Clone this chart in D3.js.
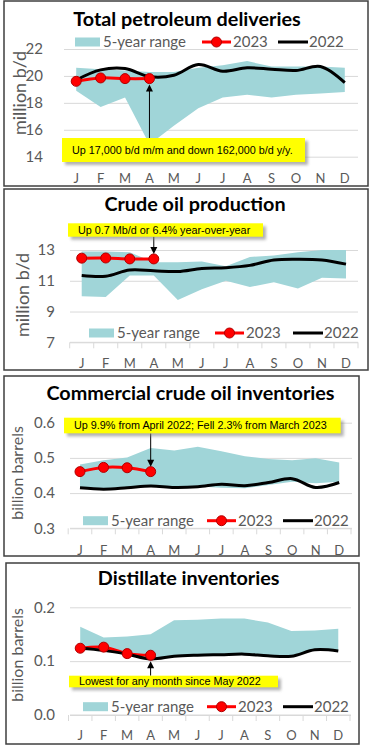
<!DOCTYPE html>
<html>
<head>
<meta charset="utf-8">
<script src="https://cdn.jsdelivr.net/npm/d3@7"></script>
<style>
  body { margin: 0; background: #fff; }
  svg { display: block; }
  text { font-family: Lato, "Open Sans", sans-serif; }
</style>
</head>
<body>
<svg id="chart" width="373" height="751"></svg>
<script>
// month labels (index used as x key since letters repeat)
const months = ["J", "F", "M", "A", "M", "J", "J", "A", "S", "O", "N", "D"];

// Total petroleum deliveries, million b/d
const deliveriesHigh = [20.6, 20.5, 20.4, 20.3, 20.3, 20.6, 20.8, 21.1, 20.7, 20.7, 20.7, 20.6];
const deliveriesLow  = [18.9, 17.7, 18.4, 14.9, 16.3, 17.6, 18.4, 18.6, 18.4, 18.6, 18.7, 18.8];
const deliveries2022 = [19.7, 20.45, 20.55, 19.95, 20.05, 20.85, 20.35, 20.6, 20.5, 20.4, 20.7, 19.5];
const deliveries2023 = [19.6, 19.85, 19.8, 19.8];
const deliveriesTicks = [14, 16, 18, 20, 22];

// Crude oil production, million b/d
const productionHigh = [12.9, 12.9, 12.85, 12.2, 12.2, 12.25, 11.95, 12.55, 12.65, 12.85, 13.0, 13.0];
const productionLow  = [10.0, 9.95, 11.35, 11.35, 9.75, 10.45, 11.0, 10.6, 10.9, 10.5, 11.2, 11.15];
const production2022 = [11.35, 11.3, 11.7, 11.65, 11.6, 11.8, 11.85, 12.0, 12.35, 12.4, 12.35, 12.08];
const production2023 = [12.47, 12.48, 12.42, 12.42];
const productionTicks = [7, 9, 11, 13];

// Commercial crude oil inventories, billion barrels
const crudeInvHigh = [0.481, 0.493, 0.501, 0.528, 0.521, 0.532, 0.519, 0.505, 0.497, 0.493, 0.499, 0.487];
const crudeInvLow  = [0.416, 0.412, 0.416, 0.421, 0.417, 0.419, 0.415, 0.414, 0.423, 0.432, 0.428, 0.432];
const crudeInv2022 = [0.415, 0.411, 0.415, 0.42, 0.416, 0.418, 0.425, 0.421, 0.43, 0.441, 0.416, 0.43];
const crudeInv2023 = [0.461, 0.473, 0.472, 0.461];
const crudeInvTicks = [0.3, 0.4, 0.5, 0.6];

// Distillate inventories, billion barrels
const distInvHigh = [0.164, 0.144, 0.146, 0.150, 0.176, 0.177, 0.179, 0.179, 0.172, 0.156, 0.157, 0.160];
const distInvLow  = [0.123, 0.120, 0.113, 0.104, 0.109, 0.111, 0.112, 0.113, 0.110, 0.109, 0.121, 0.119];
const distInv2022 = [0.124, 0.120, 0.113, 0.104, 0.109, 0.111, 0.112, 0.113, 0.110, 0.109, 0.121, 0.119];
const distInv2023 = [0.124, 0.126, 0.114, 0.111];
const distInvTicks = [0.0, 0.1, 0.2];

const titles = ["Total petroleum deliveries", "Crude oil production",
                "Commercial crude oil inventories", "Distillate inventories"];
const yTitles = ["million b/d", "million b/d", "billion barrels", "billion barrels"];
const notes = ["Up 17,000 b/d m/m and down 162,000 b/d y/y.",
               "Up 0.7 Mb/d or 6.4% year-over-year",
               "Up 9.9% from April 2022; Fell 2.3% from March 2023",
               "Lowest for any month since May 2022"];
const legendLabels = ["5-year range", "2023", "2022"];

const panels = [
  { high: deliveriesHigh, low: deliveriesLow, y22: deliveries2022, y23: deliveries2023,
    ticks: deliveriesTicks, fmt: d3.format("d"),
    box: [4, 1, 364, 185], xRange: [64, 357], yRange: [156.7, 49], gridX: [64, 358],
    tickRight: 43, monthY: 183, titleX: 187, titleY: 26, legendY: 42, legendX: [75, 202, 278],
    yTitleX: 20, yTitleY: 93, yTitleSize: 18, axisLine: false,
    noteBox: [62, 138, 243, 24] },
  { high: productionHigh, low: productionLow, y22: production2022, y23: production2023,
    ticks: productionTicks, fmt: d3.format("d"),
    box: [4, 189, 364, 181], xRange: [69.7, 358], yRange: [342.3, 250], gridX: [70, 358],
    tickRight: 55, monthY: 368, titleX: 195, titleY: 211, legendY: 333, legendX: [89, 215, 293],
    yTitleX: 23, yTitleY: 295, yTitleSize: 18, axisLine: true,
    noteBox: [68, 223.3, 195, 13.4] },
  { high: crudeInvHigh, low: crudeInvLow, y22: crudeInv2022, y23: crudeInv2023,
    ticks: crudeInvTicks, fmt: d3.format(".1f"),
    box: [4, 376, 355, 180], xRange: [68.2, 351], yRange: [528.3, 422.7], gridX: [70, 352],
    tickRight: 55, monthY: 555, titleX: 190.5, titleY: 400, legendY: 520.7, legendX: [83, 207, 283],
    yTitleX: 17, yTitleY: 473, yTitleSize: 16, axisLine: true,
    noteBox: [64, 417.7, 276.7, 15.6] },
  { high: distInvHigh, low: distInvLow, y22: distInv2022, y23: distInv2023,
    ticks: distInvTicks, fmt: d3.format(".1f"),
    box: [6, 563, 353, 181], xRange: [68.5, 350], yRange: [715, 607.3], gridX: [70, 351],
    tickRight: 55, monthY: 740, titleX: 188.7, titleY: 585, legendY: 706.7, legendX: [83, 207, 283],
    yTitleX: 17, yTitleY: 655, yTitleSize: 16, axisLine: true,
    noteBox: [69, 675.7, 209, 11.6] }
];

const bandColor = "#a0d5d8";
const gridColor = "#d9d9d9";
const labelColor = "#595959";
const red = "#ff0000";

const svg = d3.select("#chart");

const defs = svg.append("defs");
defs.append("filter")
    .attr("id", "shadow")
    .attr("x", "-10%").attr("y", "-50%").attr("width", "130%").attr("height", "250%")
    .append("feGaussianBlur")
    .attr("stdDeviation", 1.5);

panels.forEach((p, k) => {
    const g = svg.append("g");

    const x = d3.scaleBand()
        .domain(d3.range(12))
        .range(p.xRange);
    const cx = i => x(i) + x.bandwidth() / 2;

    const y = d3.scaleLinear()
        .domain(d3.extent(p.ticks))
        .range(p.yRange);

    // frame
    g.append("rect")
        .attr("x", p.box[0]).attr("y", p.box[1])
        .attr("width", p.box[2]).attr("height", p.box[3])
        .attr("fill", "#fff")
        .attr("stroke", "#3f3f3f")
        .attr("stroke-width", 1.5);

    // gridlines + tick labels
    const yAxis = g.append("g")
        .attr("transform", `translate(${p.gridX[0]},0)`)
        .call(d3.axisLeft(y)
            .tickValues(p.ticks)
            .tickSize(-(p.gridX[1] - p.gridX[0]))
            .tickFormat(p.fmt));
    yAxis.select(".domain").remove();
    yAxis.selectAll(".tick line")
        .attr("stroke", gridColor);
    yAxis.selectAll(".tick text")
        .attr("x", p.tickRight - p.gridX[0])
        .attr("fill", labelColor)
        .style("font-size", "15px");

    // x axis (month letters)
    const xAxis = g.append("g")
        .attr("transform", `translate(0,${p.monthY})`)
        .call(d3.axisBottom(x).tickSize(0).tickFormat(i => months[i]));
    xAxis.select(".domain").remove();
    xAxis.selectAll(".tick text")
        .attr("y", 0).attr("dy", 0)
        .attr("fill", labelColor)
        .style("font-size", "13px");

    if (p.axisLine) {
        const y0 = y(p.ticks[0]);
        g.append("line")
            .attr("x1", p.gridX[0]).attr("x2", p.gridX[1])
            .attr("y1", y0).attr("y2", y0)
            .attr("stroke", gridColor);
        g.selectAll(".xtick")
            .data(d3.range(13))
            .enter().append("line")
            .attr("class", "xtick")
            .attr("x1", i => p.xRange[0] + i * x.step())
            .attr("x2", i => p.xRange[0] + i * x.step())
            .attr("y1", y0).attr("y2", y0 + 6)
            .attr("stroke", gridColor);
    }

    // 5-year range
    const area = d3.area()
        .x((d, i) => cx(i))
        .y0((d, i) => y(p.low[i]))
        .y1(d => y(d));
    g.append("path")
        .datum(p.high)
        .attr("d", area)
        .attr("fill", bandColor);

    const line = d3.line()
        .x((d, i) => cx(i))
        .y(d => y(d))
        .curve(d3.curveCatmullRom.alpha(0.5));

    g.append("path")
        .datum(p.y23)
        .attr("d", line)
        .attr("fill", "none")
        .attr("stroke", red)
        .attr("stroke-width", 3);

    g.append("path")
        .datum(p.y22)
        .attr("d", line)
        .attr("fill", "none")
        .attr("stroke", "#000")
        .attr("stroke-width", 3);

    g.selectAll(".pt")
        .data(p.y23)
        .enter().append("circle")
        .attr("class", "pt")
        .attr("cx", (d, i) => cx(i))
        .attr("cy", d => y(d))
        .attr("r", 5)
        .attr("fill", red)
        .attr("stroke", "#b00000")
        .attr("stroke-width", 1);

    // title
    g.append("text")
        .attr("x", p.titleX).attr("y", p.titleY)
        .attr("text-anchor", "middle")
        .style("font-size", "19.8px")
        .style("font-weight", "bold")
        .text(titles[k]);

    // y axis title
    g.append("text")
        .attr("transform", `translate(${p.yTitleX},${p.yTitleY}) rotate(-90)`)
        .attr("text-anchor", "middle")
        .attr("dy", "0.35em")
        .attr("fill", labelColor)
        .style("font-size", p.yTitleSize + "px")
        .text(yTitles[k]);

    // legend
    const lg = g.append("g").attr("transform", `translate(0,${p.legendY})`);
    lg.append("rect")
        .attr("x", p.legendX[0]).attr("y", -4.5)
        .attr("width", 25).attr("height", 9)
        .attr("fill", bandColor);
    lg.append("line")
        .attr("x1", p.legendX[1]).attr("x2", p.legendX[1] + 29)
        .attr("stroke", red).attr("stroke-width", 3);
    lg.append("circle")
        .attr("cx", p.legendX[1] + 14.5).attr("r", 5)
        .attr("fill", red).attr("stroke", "#b00000");
    lg.append("line")
        .attr("x1", p.legendX[2]).attr("x2", p.legendX[2] + 30)
        .attr("stroke", "#000").attr("stroke-width", 3);
    lg.selectAll(".lt")
        .data(legendLabels)
        .enter().append("text")
        .attr("class", "lt")
        .attr("x", (d, i) => p.legendX[i] + (i === 0 ? 28 : 31))
        .attr("dy", "0.35em")
        .attr("fill", labelColor)
        .style("font-size", "15px")
        .text(d => d);

    // callout with arrow to April 2023
    const [bx, by, bw, bh] = p.noteBox;
    const ax = cx(3);
    const ay = y(p.y23[3]);
    const below = by > ay;
    const tipY = below ? ay + 6 : ay - 5;
    const baseY = below ? by : by + bh;
    g.append("line")
        .attr("x1", ax).attr("x2", ax)
        .attr("y1", baseY).attr("y2", tipY + (below ? 5 : -5))
        .attr("stroke", "#000")
        .attr("stroke-width", 1);
    const s = below ? 1 : -1;
    g.append("path")
        .attr("d", `M${ax},${tipY}L${ax - 3.5},${tipY + s * 7}L${ax + 3.5},${tipY + s * 7}Z`)
        .attr("fill", "#000");

    g.append("rect")
        .attr("x", bx + 3).attr("y", by + 3)
        .attr("width", bw).attr("height", bh)
        .attr("fill", "#7f7f7f")
        .attr("opacity", 0.6)
        .attr("filter", "url(#shadow)");
    g.append("rect")
        .attr("x", bx).attr("y", by)
        .attr("width", bw).attr("height", bh)
        .attr("fill", "#ffff00");
    g.append("text")
        .attr("x", bx + 10).attr("y", by + bh / 2)
        .attr("dy", "0.35em")
        .style("font-family", "'Liberation Sans', Arial, sans-serif")
        .style("font-size", "10.8px")
        .text(notes[k]);
});
</script>
</body>
</html>
